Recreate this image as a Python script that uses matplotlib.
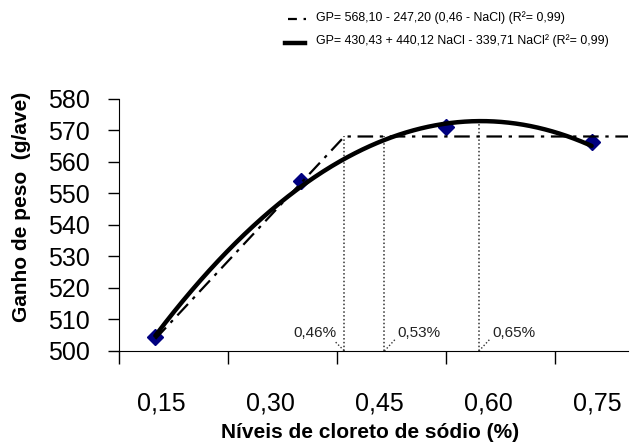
import numpy as np
import matplotlib.pyplot as plt
from matplotlib.transforms import ScaledTranslation

# ----------------------------
# DATA
# ----------------------------
nacl = [0.20, 0.40, 0.60, 0.80]
ganho = [504.4, 554.0, 571.0, 566.2]

# linear-plateau model: GP = 568,10 - 247,20 (0,46 - NaCl)
plateau = 568.10
slope = 247.20
knee = 0.46

# quadratic model: GP = 430,43 + 440,12 NaCl - 339,71 NaCl^2
b0, b1, b2 = 430.43, 440.12, -339.71

cut_x = [0.46, 0.515, 0.645]
cut_top = [568.1, 568.1, 572.5]
cut_labels = ["0,46%", "0,53%", "0,65%"]

xticks = [0.15, 0.30, 0.45, 0.60, 0.75]
xticklabels = ["0,15", "0,30", "0,45", "0,60", "0,75"]
yticks = list(range(500, 581, 10))

leg1 = "GP= 568,10 - 247,20 (0,46 - NaCl) (R²= 0,99)"
leg2 = "GP= 430,43 + 440,12 NaCl - 339,71 NaCl² (R²= 0,99)"

# ----------------------------
# PLOT
# ----------------------------
plt.rcParams["font.family"] = ["Liberation Sans", "DejaVu Sans"]

fig = plt.figure(figsize=(6.35, 4.44), dpi=100)
ax = fig.add_axes([119 / 635, 1 - 351 / 444, (628 - 119) / 635, (351 - 99) / 444])

# linear-plateau (dash-dot)
xl = np.linspace(0.20, 0.85, 300)
yl = np.where(xl < knee, plateau - slope * (knee - xl), plateau)
ax.plot(xl, yl, color="black", lw=1.6, dashes=(7, 3, 1.5, 3), zorder=3)

# quadratic (thick)
xq = np.linspace(0.20, 0.80, 300)
yq = b0 + b1 * xq + b2 * xq ** 2
ax.plot(xq, yq, color="black", lw=3.2, zorder=4, solid_capstyle="round")

# observed points
ax.plot(nacl, ganho, linestyle="none", marker="D", markersize=8,
        color="#000080", zorder=2)

# cut lines with labels
dot = (0, (1, 1.5))
for xc, yt in zip(cut_x, cut_top):
    ax.plot([xc, xc], [500, yt], color="#333333", lw=1.1, linestyle=dot, zorder=1)
for i, (xc, lab) in enumerate(zip(cut_x, cut_labels)):
    if i == 0:
        ax.plot([xc - 0.012, xc], [502.8, 500], color="#333333", lw=1.0, linestyle=dot)
        ax.text(xc - 0.011, 505.7, lab, ha="right", va="center",
                fontsize=11, color="#222222")
    else:
        ax.plot([xc, xc + 0.016], [500, 504], color="#333333", lw=1.0, linestyle=dot)
        ax.text(xc + 0.018, 505.7, lab, ha="left", va="center",
                fontsize=11, color="#222222")

ax.set_xlim(0.15, 0.85)
ax.set_ylim(500, 580)
ax.set_yticks(yticks)
ax.set_yticklabels([str(v) for v in yticks], fontsize=18)
ax.set_xticks(xticks)
ax.set_xticklabels(xticklabels, fontsize=18)
ax.tick_params(axis="y", direction="out", length=8, width=1, pad=13)
ax.tick_params(axis="x", direction="out", length=9, width=1, pad=20)
for lbl in ax.get_xticklabels():
    lbl.set_transform(lbl.get_transform() + ScaledTranslation(0.42, 0, fig.dpi_scale_trans))

ax.spines["top"].set_visible(False)
ax.spines["right"].set_visible(False)

fig.text(22 / 635, 1 - 207 / 444, "Ganho de peso  (g/ave)", rotation=90,
         ha="center", va="center", fontsize=15, fontweight="bold")
fig.text(370 / 635, 1 - 432 / 444, "Níveis de cloreto de sódio (%)",
         ha="center", va="center", fontsize=15, fontweight="bold")

# legend drawn by hand at top
fig.add_artist(plt.Line2D([288 / 635, 306 / 635], [1 - 19 / 444, 1 - 19 / 444],
                          color="black", lw=1.6, dashes=(4, 3, 1.5, 3)))
fig.add_artist(plt.Line2D([285 / 635, 305 / 635], [1 - 43 / 444, 1 - 43 / 444],
                          color="black", lw=3.2))
fig.text(316 / 635, 1 - 18 / 444, leg1, ha="left", va="center", fontsize=8.9)
fig.text(316 / 635, 1 - 41 / 444, leg2, ha="left", va="center", fontsize=8.9)

fig.savefig("out.png", dpi=100)
